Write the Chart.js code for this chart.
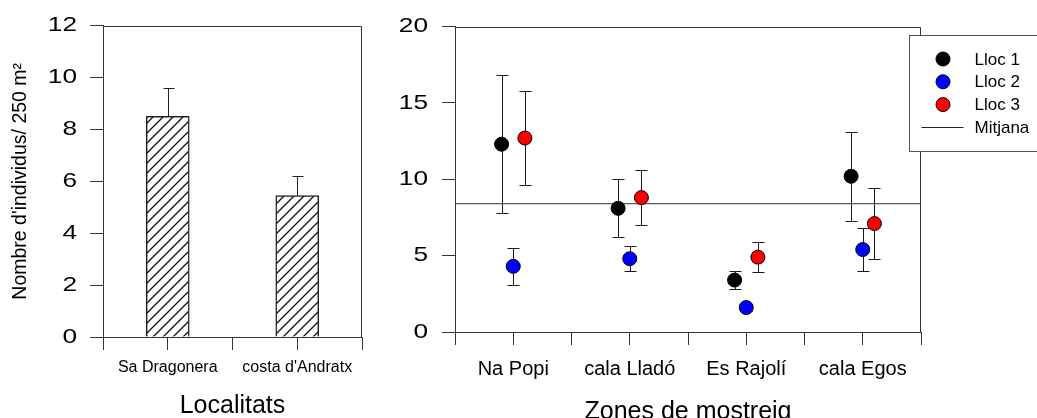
<!DOCTYPE html>
<html>
<head>
<meta charset="utf-8">
<script src="https://cdn.jsdelivr.net/npm/chart.js@4.4.1/dist/chart.umd.min.js"></script>
<style>
    body { margin: 0; background: #fff; width: 1037px; height: 418px; overflow: hidden; position: relative; }
    canvas { position: absolute; top: 0; }
    #left-chart { left: 0; }
    #right-chart { left: 380px; }
</style>
</head>
<body>
<canvas id="left-chart" width="370" height="418"></canvas>
<canvas id="right-chart" width="657" height="418"></canvas>
<script>
// Left panel: mean per locality (+ one-sided error)
const localitats = ["Sa Dragonera", "costa d'Andratx"];
const mitjanesLocalitat = [8.5, 5.45];
const errorsLocalitat = [1.1, 0.75];
const leftYTicks = [0, 2, 4, 6, 8, 10, 12];

// Right panel: sampling zones, three sites each
const zones = ["Na Popi", "cala Lladó", "Es Rajolí", "cala Egos"];
const lloc1 = [12.3, 8.1, 3.4, 10.2];
const lloc1Low = [7.8, 6.2, 2.8, 7.3];
const lloc1High = [16.8, 10.0, 4.0, 13.1];
const lloc2 = [4.3, 4.8, 1.6, 5.4];
const lloc2Low = [3.1, 4.0, 1.4, 4.0];
const lloc2High = [5.5, 5.6, 1.85, 6.8];
const lloc3 = [12.7, 8.8, 4.9, 7.1];
const lloc3Low = [9.6, 7.0, 3.9, 4.8];
const lloc3High = [15.8, 10.6, 5.9, 9.4];
const mitjana = 8.4;
const rightYTicks = [0, 5, 10, 15, 20];

const FONT = "'Liberation Sans', Arial, sans-serif";
const AXIS = "#333";

// ticks at category edges and centres (categories sit at 1..n)
const categoryTicks = (n) => {
    const t = [];
    for (let v = 0.5; v <= n + 0.5; v += 0.5) t.push({ value: v });
    return t;
};

const hatchPattern = () => {
    const s = 10;
    const c = document.createElement("canvas");
    c.width = s; c.height = s;
    const g = c.getContext("2d");
    g.fillStyle = "#fff";
    g.fillRect(0, 0, s, s);
    g.strokeStyle = "#111";
    g.lineWidth = 1.3;
    g.beginPath();
    g.moveTo(0, s); g.lineTo(s, 0);
    g.moveTo(-1, 1); g.lineTo(1, -1);
    g.moveTo(s - 1, s + 1); g.lineTo(s + 1, s - 1);
    g.stroke();
    return g.createPattern(c, "repeat");
};

// top and right lines of the box
const frame = {
    id: "frame",
    afterDraw(chart) {
        const { ctx, chartArea: a } = chart;
        const top = Math.round(a.top) + 0.5;
        const right = Math.round(a.right) - 0.5;
        ctx.save();
        ctx.strokeStyle = AXIS;
        ctx.lineWidth = 1;
        ctx.beginPath();
        ctx.moveTo(a.left, top);
        ctx.lineTo(right, top);
        ctx.lineTo(right, a.bottom);
        ctx.stroke();
        ctx.restore();
    }
};

// y tick numbers are drawn a bit wider in the original
const stretchYLabels = {
    id: "stretchYLabels",
    beforeDraw(chart) {
        const sc = chart.scales.y;
        if (sc._stretched) return;
        const orig = sc.drawLabels.bind(sc);
        const fill = CanvasRenderingContext2D.prototype.fillText;
        sc.drawLabels = function (area) {
            const ctx = this.ctx;
            ctx.fillText = function (t, x, y) {
                this.save();
                this.translate(x, y);
                this.scale(1.25, 1);
                fill.call(this, t, 0, 0);
                this.restore();
            };
            orig(area);
            delete ctx.fillText;
        };
        sc._stretched = true;
    }
};

const barErrors = {
    id: "barErrors",
    afterDatasetsDraw(chart) {
        const { ctx } = chart;
        const y = chart.scales.y;
        const meta = chart.getDatasetMeta(0);
        ctx.save();
        ctx.strokeStyle = "#222";
        ctx.lineWidth = 1;
        meta.data.forEach((bar, i) => {
            const x = Math.round(bar.x) + 0.5;
            const yTop = y.getPixelForValue(mitjanesLocalitat[i] + errorsLocalitat[i]);
            ctx.beginPath();
            ctx.moveTo(x, bar.y);
            ctx.lineTo(x, yTop);
            ctx.moveTo(x - 5, Math.round(yTop) + 0.5);
            ctx.lineTo(x + 6, Math.round(yTop) + 0.5);
            ctx.stroke();
        });
        ctx.restore();
    }
};

const pointErrors = {
    id: "pointErrors",
    beforeDatasetsDraw(chart) {
        const { ctx } = chart;
        const y = chart.scales.y;
        ctx.save();
        ctx.strokeStyle = "#1a1a1a";
        ctx.lineWidth = 1;
        chart.data.datasets.forEach((ds, k) => {
            if (!ds.low) return;
            chart.getDatasetMeta(k).data.forEach((pt, i) => {
                const x = Math.round(pt.x) + 0.5;
                const yl = Math.round(y.getPixelForValue(ds.low[i])) + 0.5;
                const yh = Math.round(y.getPixelForValue(ds.high[i])) + 0.5;
                ctx.beginPath();
                ctx.moveTo(x, yl); ctx.lineTo(x, yh);
                ctx.moveTo(x - 6, yl); ctx.lineTo(x + 6, yl);
                ctx.moveTo(x - 6, yh); ctx.lineTo(x + 6, yh);
                ctx.stroke();
            });
        });
        ctx.restore();
    }
};

const legendBox = {
    id: "legendBox",
    afterDraw(chart) {
        const { ctx } = chart;
        const left = Math.round(chart.chartArea.right - 12) + 0.5;
        ctx.save();
        ctx.strokeStyle = "#555";
        ctx.lineWidth = 1;
        ctx.fillStyle = "#fff";
        ctx.fillRect(left, 35, chart.width - left + 5, 116);
        ctx.strokeRect(left, 35.5, chart.width - left + 5, 116);
        ctx.font = "17px " + FONT;
        ctx.textBaseline = "middle";
        chart.data.datasets.forEach((ds, k) => {
            const rowY = 59 + k * 22.8;
            if (ds.type === "line") {
                ctx.strokeStyle = "#222";
                ctx.beginPath();
                ctx.moveTo(left + 12, Math.round(rowY) + 0.5);
                ctx.lineTo(left + 54, Math.round(rowY) + 0.5);
                ctx.stroke();
            } else {
                ctx.fillStyle = ds.backgroundColor;
                ctx.strokeStyle = "#000";
                ctx.beginPath();
                ctx.arc(left + 33.5, rowY, 7, 0, Math.PI * 2);
                ctx.fill();
                ctx.stroke();
            }
            ctx.fillStyle = "#000";
            ctx.fillText(ds.label, left + 65, rowY + 1);
        });
        ctx.restore();
    }
};

const axisGrid = { drawOnChartArea: false, tickLength: 13, color: AXIS, lineWidth: 1, offset: false };

// Left chart: bars
new Chart(document.getElementById("left-chart"), {
    type: "bar",
    data: {
        datasets: [{
            data: localitats.map((l, i) => ({ x: i + 1, y: mitjanesLocalitat[i] })),
            backgroundColor: hatchPattern(),
            borderColor: "#222",
            borderWidth: 1.5,
            barThickness: 43
        }]
    },
    options: {
        responsive: false,
        animation: false,
        events: [],
        layout: { padding: { top: 25, right: 8, left: 0, bottom: 0 } },
        plugins: { legend: { display: false }, tooltip: { enabled: false } },
        scales: {
            x: {
                type: "linear",
                min: 0.5,
                max: localitats.length + 0.5,
                offset: false,
                afterBuildTicks: (s) => { s.ticks = categoryTicks(localitats.length); },
                afterFit: (s) => { s.height = 81; },
                grid: axisGrid,
                border: { color: AXIS },
                ticks: {
                    autoSkip: false, maxRotation: 0, padding: 8, color: "#000",
                    font: { family: FONT, size: 16 },
                    callback: (v) => Number.isInteger(v) ? localitats[v - 1] : ""
                },
                title: {
                    display: true, text: "Localitats", color: "#000",
                    font: { family: FONT, size: 25, lineHeight: 1 },
                    padding: { top: 0, bottom: -1 }
                }
            },
            y: {
                min: leftYTicks[0],
                max: leftYTicks[leftYTicks.length - 1],
                afterBuildTicks: (s) => { s.ticks = leftYTicks.map((v) => ({ value: v })); },
                afterFit: (s) => { s.width = 103; },
                grid: axisGrid,
                border: { color: AXIS },
                ticks: { padding: 13, color: "#000", font: { family: FONT, size: 21 } },
                title: {
                    display: true, text: "Nombre d'individus/ 250 m²", color: "#000",
                    font: { family: FONT, size: 19.5, lineHeight: 1 },
                    padding: { top: 11, bottom: 0 }
                }
            }
        }
    },
    plugins: [frame, barErrors, stretchYLabels]
});

// Right chart: site means with min/max bars
const dodge = [-0.1, 0, 0.1];
const sites = [
    { label: "Lloc 1", values: lloc1, low: lloc1Low, high: lloc1High, color: "#000000" },
    { label: "Lloc 2", values: lloc2, low: lloc2Low, high: lloc2High, color: "#0000ff" },
    { label: "Lloc 3", values: lloc3, low: lloc3Low, high: lloc3High, color: "#ff0000" }
];

const rightDatasets = sites.map((s, k) => ({
    type: "scatter",
    label: s.label,
    data: zones.map((z, i) => ({ x: i + 1 + dodge[k], y: s.values[i] })),
    backgroundColor: s.color,
    borderColor: "#000",
    borderWidth: 1,
    pointRadius: 7,
    low: s.low,
    high: s.high
}));
rightDatasets.push({
    type: "line",
    label: "Mitjana",
    data: [{ x: 0.5, y: mitjana }, { x: zones.length + 0.5, y: mitjana }],
    borderColor: "#333",
    borderWidth: 1,
    pointRadius: 0
});

new Chart(document.getElementById("right-chart"), {
    type: "scatter",
    data: { datasets: rightDatasets },
    options: {
        responsive: false,
        animation: false,
        events: [],
        layout: { padding: { top: 22, right: 116, left: 0, bottom: 0 } },
        plugins: { legend: { display: false }, tooltip: { enabled: false } },
        scales: {
            x: {
                type: "linear",
                min: 0.5,
                max: zones.length + 0.5,
                offset: false,
                afterBuildTicks: (s) => { s.ticks = categoryTicks(zones.length); },
                afterFit: (s) => { s.height = 86; },
                grid: axisGrid,
                border: { color: AXIS },
                ticks: {
                    autoSkip: false, maxRotation: 0, padding: 12, color: "#000",
                    font: { family: FONT, size: 20 },
                    callback: (v) => Number.isInteger(v) ? zones[v - 1] : ""
                },
                title: {
                    display: true, text: "Zones de mostreig", color: "#000",
                    font: { family: FONT, size: 25, lineHeight: 1 },
                    padding: { top: 0, bottom: -6.5 }
                }
            },
            y: {
                min: rightYTicks[0],
                max: rightYTicks[rightYTicks.length - 1],
                afterBuildTicks: (s) => { s.ticks = rightYTicks.map((v) => ({ value: v })); },
                afterFit: (s) => { s.width = 75; },
                grid: axisGrid,
                border: { color: AXIS },
                ticks: { padding: 14, color: "#000", font: { family: FONT, size: 21 } }
            }
        }
    },
    plugins: [frame, pointErrors, legendBox, stretchYLabels]
});
</script>
</body>
</html>
